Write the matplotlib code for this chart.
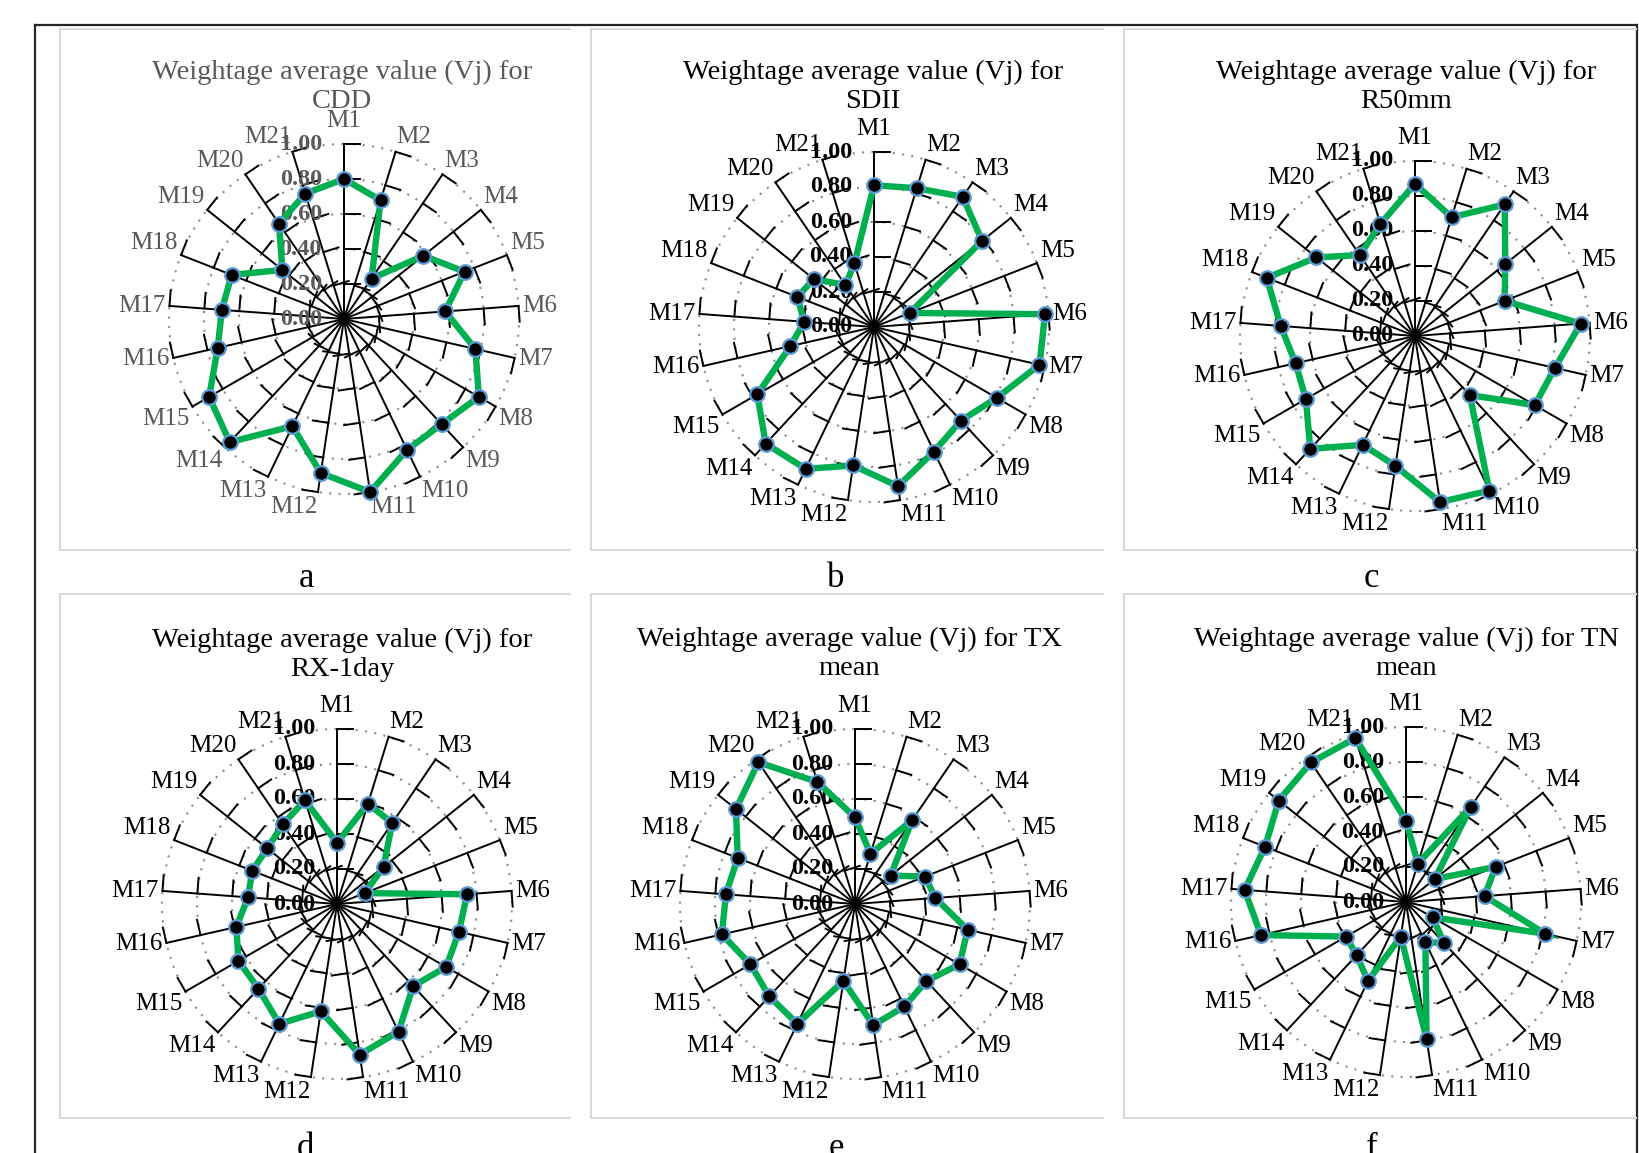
import numpy as np
import matplotlib.pyplot as plt
from matplotlib.lines import Line2D

plt.rcParams['font.family'] = ['Liberation Serif', 'DejaVu Serif']

# ---- data ----
categories = ['M%d' % i for i in range(1, 22)]
ring_levels = [0.2, 0.4, 0.6, 0.8, 1.0]
ring_labels = ['0.00', '0.20', '0.40', '0.60', '0.80', '1.00']

cdd = [0.80, 0.71, 0.28, 0.58, 0.74, 0.58, 0.77, 0.89, 0.82, 0.83, 1.00,
       0.89, 0.68, 0.96, 0.89, 0.74, 0.70, 0.69, 0.45, 0.66, 0.75]
sdii = [0.81, 0.83, 0.90, 0.79, 0.22, 0.98, 0.97, 0.81, 0.73, 0.79, 0.92,
        0.80, 0.90, 0.91, 0.77, 0.49, 0.40, 0.47, 0.44, 0.29, 0.38]
r50mm = [0.87, 0.71, 0.91, 0.66, 0.55, 0.95, 0.82, 0.79, 0.46, 0.98, 0.96,
         0.75, 0.69, 0.88, 0.72, 0.70, 0.77, 0.91, 0.72, 0.56, 0.67]
rx1day = [0.35, 0.60, 0.56, 0.34, 0.17, 0.745, 0.715, 0.72, 0.64, 0.81, 0.87,
          0.62, 0.76, 0.66, 0.65, 0.59, 0.51, 0.52, 0.51, 0.55, 0.62]
tx_mean = [0.495, 0.30, 0.58, 0.26, 0.43, 0.46, 0.66, 0.69, 0.60, 0.65, 0.70,
           0.445, 0.76, 0.72, 0.69, 0.78, 0.74, 0.72, 0.87, 0.98, 0.73]
tn_mean = [0.465, 0.23, 0.66, 0.21, 0.55, 0.45, 0.815, 0.175, 0.32, 0.255, 0.79,
           0.20, 0.50, 0.415, 0.395, 0.85, 0.925, 0.865, 0.93, 0.965, 0.98]

series = [cdd, sdii, r50mm, rx1day, tx_mean, tn_mean]
titles = ['Weightage average value (Vj) for\nCDD',
          'Weightage average value (Vj) for\nSDII',
          'Weightage average value (Vj) for\nR50mm',
          'Weightage average value (Vj) for\nRX-1day',
          'Weightage average value (Vj) for TX\nmean',
          'Weightage average value (Vj) for TN\nmean']
letters = ['a', 'b', 'c', 'd', 'e', 'f']

# ---- layout (pixels) ----
W, H = 1639, 1153
centers = [(344, 319), (874, 327), (1415, 336), (337, 904), (855, 904), (1406, 902)]
R = 175
title_pos = [(342, 87), (873, 87), (1406, 87), (342, 655), (849, 654), (1406, 654)]
letter_pos = [(307, 587), (836, 587), (1371, 587), (305, 1157), (836, 1157), (1372, 1157)]
boxes = [(60, 29, 570, 550), (591, 29, 1103, 550), (1124, 29, 1636, 550),
         (60, 594, 570, 1118), (591, 594, 1103, 1118), (1124, 594, 1636, 1118)]

fig = plt.figure(figsize=(W / 100, H / 100), dpi=100)

def fx(x):
    return x / W

def fy(y):
    return 1 - y / H

# outer black frame
for xs, ys in [((35, 35), (25, H + 5)), ((35, 1637), (25, 25)), ((1637, 1637), (25, H + 5))]:
    fig.add_artist(Line2D([fx(v) for v in xs], [fy(v) for v in ys], color='#262626', lw=1.6))

# light grey panel borders (left, top, bottom)
for x0, y0, x1, y1 in boxes:
    for xs, ys in [((x0, x0), (y0, y1)), ((x0, x1), (y0, y0)), ((x0, x1), (y1, y1))]:
        fig.add_artist(Line2D([fx(v) for v in xs], [fy(v) for v in ys], color='#d9d9d9', lw=1.5))

theta = np.linspace(0, 2 * np.pi, len(categories), endpoint=False)
circle = np.linspace(0, 2 * np.pi, 500)
L = 0.09  # tick length in radius units

for k, vals in enumerate(series):
    cx, cy = centers[k]
    txt_col = '#595959' if k == 0 else 'black'
    ax = fig.add_axes([fx(cx - R), fy(cy + R), 2 * R / W, 2 * R / H], projection='polar')
    ax.set_theta_zero_location('N')
    ax.set_theta_direction(-1)
    ax.set_ylim(0, 1)
    ax.set_xticks([])
    ax.set_yticks([])
    ax.grid(False)
    ax.spines['polar'].set_visible(False)
    ax.patch.set_alpha(0)

    # dotted rings
    for r in ring_levels:
        ax.plot(circle, np.full_like(circle, r), color='#8c8c8c', lw=1.5,
                ls=(0, (1, 3.5)), clip_on=False, zorder=1)
    # spokes with ticks on the clockwise side
    for t in theta:
        ax.plot([t, t], [0, 1], color='black', lw=1.4, clip_on=False, zorder=2)
        for r in ring_levels:
            ax.plot([t, t + np.arctan(L / r)], [r, np.hypot(r, L)], color='black',
                    lw=1.4, clip_on=False, zorder=2)

    # radial value labels
    for r, lab in zip([0.0] + ring_levels, ring_labels):
        ax.annotate(lab, xy=(0, r), xytext=(-22, 0), textcoords='offset pixels',
                    ha='right', va='center', fontsize=17.5, fontweight='bold',
                    color=txt_col, zorder=3)

    # category labels
    for t, lab in zip(theta, categories):
        s, c = np.sin(t), np.cos(t)
        ha = 'left' if s > 0.05 else ('right' if s < -0.05 else 'center')
        va = 'bottom' if c > 0.3 else ('top' if c < -0.3 else 'center')
        rl = 1.07 if abs(s) < 0.05 and c > 0 else 1.02
        ax.text(t, rl, lab, ha=ha, va=va, fontsize=18, color=txt_col)

    # data series
    ax.plot(np.append(theta, theta[0]), np.append(vals, vals[0]), color='#00b050',
            lw=4.6, clip_on=False, zorder=4, solid_joinstyle='miter')
    ax.plot(theta, vals, ls='none', marker='o', ms=10.5, mfc='black', mec='#5b9bd5',
            mew=1.6, clip_on=False, zorder=5)

    tx, ty = title_pos[k]
    fig.text(fx(tx), fy(ty), titles[k], ha='center', va='center', fontsize=20.5,
             color=txt_col, linespacing=1.22)
    lx, ly = letter_pos[k]
    fig.text(fx(lx), fy(ly), letters[k], ha='center', va='baseline', fontsize=25,
             color='black')

fig.savefig('out.png', dpi=100)
